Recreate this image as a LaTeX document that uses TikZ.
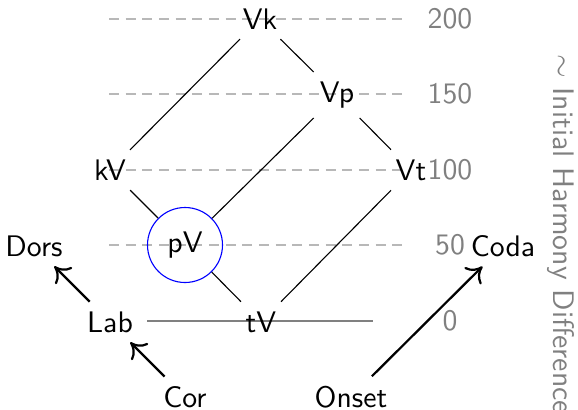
\documentclass[tikz,border=0pt]{standalone}
\usepackage{xcolor}
\usepackage{tikz}
\usetikzlibrary{
  arrows.meta,
  positioning
}
\renewcommand{\familydefault}{\sfdefault}
\definecolor{LevelGray}{HTML}{B8B8B8}
\definecolor{ScaleGray}{HTML}{808080}
\definecolor{RingBlue}{HTML}{0000FF}
\tikzset{
  segment/.style={
    inner sep=0.3333em
  },
  chosen/.style={
    segment,
    circle,
    draw=RingBlue,
    minimum size=27pt
  },
  level/.style={
    draw=LevelGray,
    dash pattern=on 3.6pt off 2.4pt
  },
  zeroline/.style={
    draw=ScaleGray
  },
  scalelabel/.style={
    text=ScaleGray
  },
  link/.style={
    draw=black
  },
  moveto/.style={
    -{To[length=1.8mm,width=3mm]},
    thick
  },
  axistitle/.style={
    text=ScaleGray,
    rotate=-90
  }
}
\begin{document}
\begin{tikzpicture}[x=0.36pt,y=-0.36pt,font=\fontsize{10.7}{13}\selectfont]

  \useasboundingbox (0,0) rectangle (578,409);

  \foreach \y/\v in {19/200,94/150,170/100,245/50} {
    \draw[level]
    (109,\y) --
    (405,\y);
    \node[scalelabel] (lvl\v) at (450,\y) {\v};
  }

  \draw[zeroline]
  (147,321) --
  (373,321);
  \node[scalelabel] (lvl0) at (450,321) {0};

  \node[segment] (Vk) at (260,19) {Vk};
  \node[segment] (Vp) at (337,95) {Vp};
  \node[segment] (kV) at (110,170) {kV};
  \node[segment] (Vt) at (411,170) {Vt};
  \node[chosen] (pV) at (185,245) {pV};
  \node[segment] (tV) at (261,322) {tV};

  \node[segment] (Dors) at (34,246) {Dors};
  \node[segment] (Coda) at (503,246) {Coda};
  \node[segment] (Lab) at (110,322) {Lab};
  \node[segment] (Cor) at (185,397) {Cor};
  \node[segment] (Onset) at (351,397) {Onset};

  \draw[link] (Vk) -- (kV);
  \draw[link] (Vk) -- (Vp);
  \draw[link] (Vp) -- (pV);
  \draw[link] (Vp) -- (Vt);
  \draw[link] (kV) -- (pV);
  \draw[link] (pV) -- (tV);
  \draw[link] (Vt) -- (tV);

  \draw[moveto] (Lab) -- (Dors);
  \draw[moveto] (Cor) -- (Lab);
  \draw[moveto] (Onset) -- (Coda);

  \node[axistitle] (title) at (561,234) {$\sim$ Initial Harmony Difference};

\end{tikzpicture}
\end{document}
